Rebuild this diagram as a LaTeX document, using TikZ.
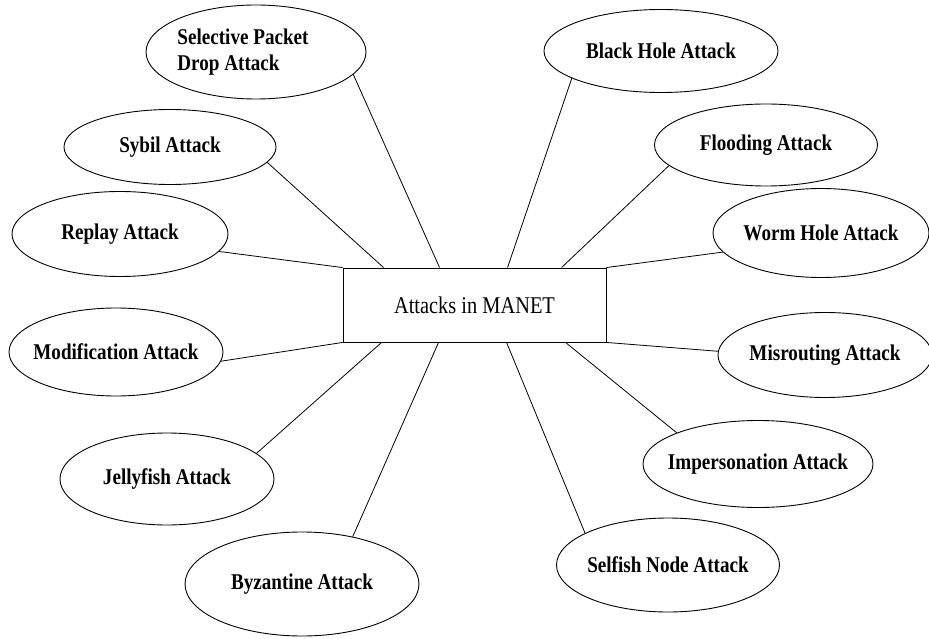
\documentclass[tikz,border=0pt]{standalone}
\usepackage{fontspec}
\setmainfont{Liberation Serif}[FakeStretch=0.85]
\usetikzlibrary{shapes.geometric}

\begin{document}
\begin{tikzpicture}[x=1pt, y=-1pt, line width=0.9pt,
        attack/.style={ellipse, draw, inner sep=0pt},
        every label/.style={font=\fontsize{22.5}{26}\selectfont\bfseries}]
        \useasboundingbox (0, 0) rectangle (929, 639);

        \node[draw, minimum width=263pt, minimum height=74pt, font=\fontsize{24}{28}\selectfont] (M) at (474.5, 305) {Attacks in MANET};

        \node[attack, minimum width=220pt, minimum height=94pt, label={[align=left, xshift=-13pt]center:Selective Packet\\Drop Attack}] (SP) at (256, 52) {};
        \node[attack, minimum width=212pt, minimum height=75pt, label={center:Sybil Attack}] (SY) at (170, 147) {};
        \node[attack, minimum width=216pt, minimum height=85pt, label={center:Replay Attack}] (RE) at (120, 234) {};
        \node[attack, minimum width=214pt, minimum height=88pt, label={center:Modification Attack}] (MO) at (116, 352) {};
        \node[attack, minimum width=214pt, minimum height=92pt, label={center:Jellyfish Attack}] (JE) at (167, 479) {};
        \node[attack, minimum width=234pt, minimum height=104pt, label={center:Byzantine Attack}] (BY) at (302, 584) {};

        \node[attack, minimum width=234pt, minimum height=83pt, label={center:Black Hole Attack}] (BH) at (661, 51) {};
        \node[attack, minimum width=223pt, minimum height=82pt, label={center:Flooding Attack}] (FL) at (766, 145) {};
        \node[attack, minimum width=216pt, minimum height=89pt, label={center:Worm Hole Attack}] (WH) at (821, 233) {};
        \node[attack, minimum width=214pt, minimum height=85pt, label={center:Misrouting Attack}] (MI) at (825, 355) {};
        \node[attack, minimum width=230pt, minimum height=87pt, label={center:Impersonation Attack}] (IM) at (758, 464) {};
        \node[attack, minimum width=223pt, minimum height=94pt, label={center:Selfish Node Attack}] (SN) at (668, 565) {};

        % links to the top side
        \draw[line width=0.8pt] (SP.-13) -- ([xshift=97pt]M.north west);
        \draw[line width=0.8pt] (SY.-9) -- ([xshift=41pt]M.north west);
        \draw[line width=0.8pt] (RE.-10) -- (M.north west);
        \draw[line width=0.8pt] (BH.197) -- ([xshift=165pt]M.north west);
        \draw[line width=0.8pt] (FL.192) -- ([xshift=219pt]M.north west);
        \draw[line width=0.8pt] (WH.191) -- (M.north east);

        % links to the bottom side
        \draw[line width=0.8pt] (MO.-5) -- (M.south west);
        \draw[line width=0.8pt] (JE.16) -- ([xshift=39pt]M.south west);
        \draw[line width=0.8pt] (BY.43) -- ([xshift=96pt]M.south west);
        \draw[line width=0.8pt] (MI.178) -- (M.south east);
        \draw[line width=0.8pt] (IM.159) -- ([xshift=223pt]M.south west);
        \draw[line width=0.8pt] (SN.159) -- ([xshift=164pt]M.south west);
    \end{tikzpicture}
\end{document}
